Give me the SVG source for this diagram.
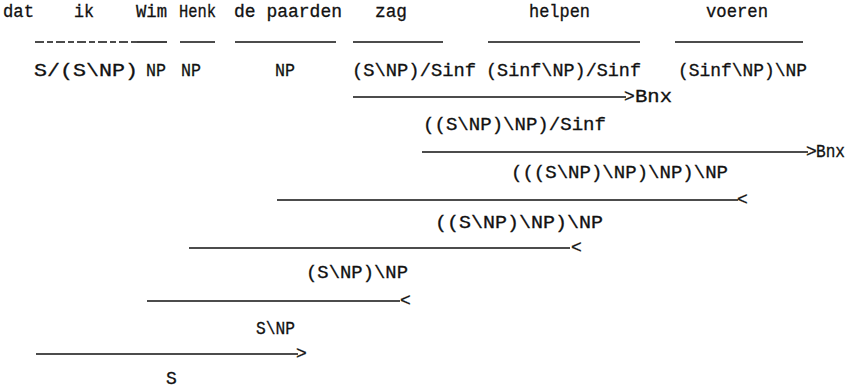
<svg xmlns="http://www.w3.org/2000/svg" width="850" height="389" viewBox="0 0 850 389">
  <style>
    text { font-family: "Liberation Mono", "DejaVu Sans Mono", monospace; font-size: 18px; fill: #111; stroke: #111; stroke-width: 0.3; }
    .rule { stroke: #111; stroke-width: 1.6; fill: none; }
    .faint { stroke-dasharray: 9 3 6 3; stroke-width: 1.3; }
  </style>
  <rect width="850" height="389" fill="#fff"/>

  <!-- lexical items: word above, category below -->
  <g id="w-dat"><text x="3" y="17" textLength="31" lengthAdjust="spacingAndGlyphs">dat</text></g>
  <g id="w-ik">
    <text x="74" y="17" textLength="20" lengthAdjust="spacingAndGlyphs">ik</text>
    <text x="34" y="76" textLength="104" lengthAdjust="spacingAndGlyphs">S/(S\NP)</text>
  </g>
  <g id="w-wim">
    <text x="136" y="17" textLength="31" lengthAdjust="spacingAndGlyphs">Wim</text>
    <text x="146" y="76" textLength="20" lengthAdjust="spacingAndGlyphs">NP</text>
  </g>
  <g id="w-henk">
    <text x="179" y="17" textLength="37" lengthAdjust="spacingAndGlyphs">Henk</text>
    <text x="181" y="76" textLength="20" lengthAdjust="spacingAndGlyphs">NP</text>
  </g>
  <g id="w-paarden">
    <text x="234" y="17" textLength="108" lengthAdjust="spacingAndGlyphs">de paarden</text>
    <text x="275" y="76" textLength="20" lengthAdjust="spacingAndGlyphs">NP</text>
  </g>
  <g id="w-zag">
    <text x="375" y="17" textLength="32" lengthAdjust="spacingAndGlyphs">zag</text>
    <text x="352" y="76" textLength="124" lengthAdjust="spacingAndGlyphs">(S\NP)/Sinf</text>
  </g>
  <g id="w-helpen">
    <text x="529" y="17" textLength="61" lengthAdjust="spacingAndGlyphs">helpen</text>
    <text x="486" y="76" textLength="155" lengthAdjust="spacingAndGlyphs">(Sinf\NP)/Sinf</text>
  </g>
  <g id="w-voeren">
    <text x="706" y="17" textLength="62" lengthAdjust="spacingAndGlyphs">voeren</text>
    <text x="678" y="76" textLength="129" lengthAdjust="spacingAndGlyphs">(Sinf\NP)\NP</text>
  </g>

  <!-- derived categories -->
  <g id="d1"><text x="423" y="130" textLength="183" lengthAdjust="spacingAndGlyphs">((S\NP)\NP)/Sinf</text></g>
  <g id="d2"><text x="511" y="178" textLength="217" lengthAdjust="spacingAndGlyphs">(((S\NP)\NP)\NP)\NP</text></g>
  <g id="d3"><text x="435" y="228" textLength="168" lengthAdjust="spacingAndGlyphs">((S\NP)\NP)\NP</text></g>
  <g id="d4"><text x="306" y="278" textLength="102" lengthAdjust="spacingAndGlyphs">(S\NP)\NP</text></g>
  <g id="d5"><text x="256" y="334" textLength="39" lengthAdjust="spacingAndGlyphs">S\NP</text></g>
  <g id="d6"><text x="166" y="384">S</text></g>

  <!-- combination rules -->
  <g id="connectors">
    <line class="rule faint" x1="35" y1="42" x2="137" y2="42"/>
    <line class="rule" x1="137" y1="42" x2="167" y2="42"/>
    <line class="rule" x1="180" y1="42" x2="215" y2="42"/>
    <line class="rule" x1="235" y1="42" x2="336" y2="42"/>
    <line class="rule" x1="353" y1="42" x2="443" y2="42"/>
    <line class="rule" x1="488" y1="42" x2="640" y2="42"/>
    <line class="rule" x1="675" y1="42" x2="803" y2="42"/>

    <line class="rule" x1="353" y1="97" x2="626" y2="97"/>
    <text x="624" y="102">&gt;</text><text x="635" y="102" textLength="37" lengthAdjust="spacingAndGlyphs">Bnx</text>

    <line class="rule" x1="422" y1="152" x2="808" y2="152"/>
    <text x="806" y="157">&gt;</text><text x="816" y="157" textLength="29" lengthAdjust="spacingAndGlyphs">Bnx</text>

    <line class="rule" x1="277" y1="200" x2="738" y2="200"/>
    <text x="737" y="205">&lt;</text>

    <line class="rule" x1="189" y1="248" x2="570" y2="248"/>
    <text x="571" y="253">&lt;</text>

    <line class="rule" x1="147" y1="301" x2="400" y2="301"/>
    <text x="400" y="306">&lt;</text>

    <line class="rule" x1="36" y1="354" x2="298" y2="354"/>
    <text x="296" y="359">&gt;</text>
  </g>
</svg>
